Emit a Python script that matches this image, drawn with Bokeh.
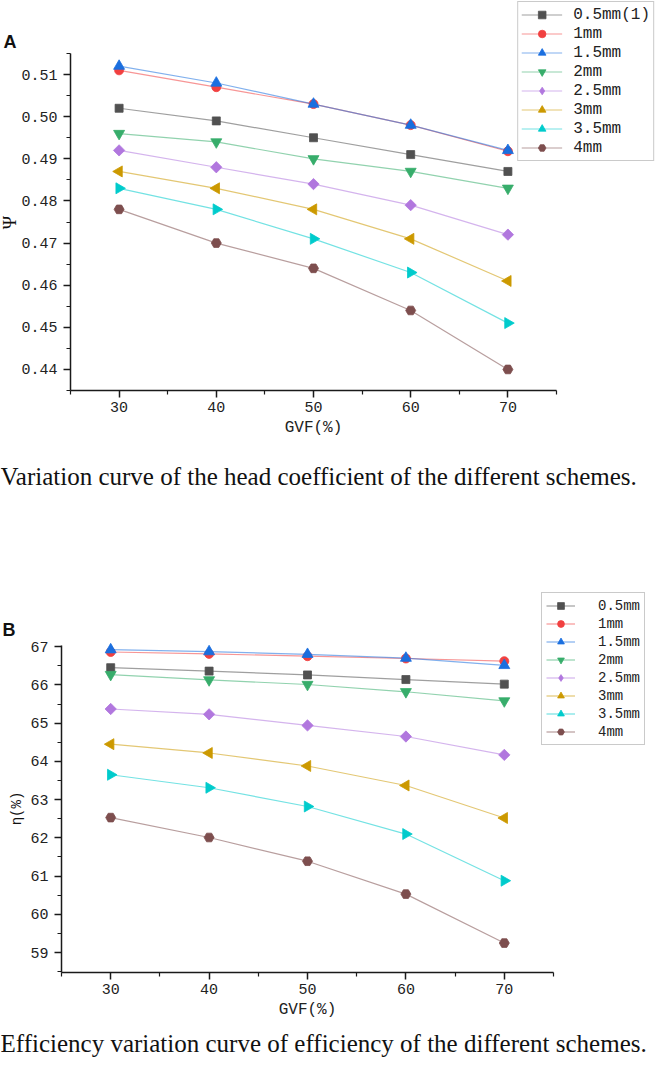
import numpy as np
from bokeh.plotting import figure
from bokeh.layouts import column
from bokeh.models import Range1d, FixedTicker, Label, Legend, LegendItem, CustomJSTickFormatter
from bokeh.embed import file_html
from bokeh.resources import INLINE

# ---------------- data ----------------
gvf = [30, 40, 50, 60, 70]

names_a = ["0.5mm(1)", "1mm", "1.5mm", "2mm", "2.5mm", "3mm", "3.5mm", "4mm"]
names_b = ["0.5mm", "1mm", "1.5mm", "2mm", "2.5mm", "3mm", "3.5mm", "4mm"]

# Panel A: head coefficient (Psi)
psi_05 = [0.502, 0.499, 0.495, 0.491, 0.487]
psi_10 = [0.511, 0.507, 0.503, 0.498, 0.4918]
psi_15 = [0.512, 0.508, 0.503, 0.498, 0.492]
psi_20 = [0.496, 0.494, 0.490, 0.487, 0.483]
psi_25 = [0.492, 0.488, 0.484, 0.479, 0.472]
psi_30 = [0.487, 0.483, 0.478, 0.471, 0.461]
psi_35 = [0.483, 0.478, 0.471, 0.463, 0.451]
psi_40 = [0.478, 0.470, 0.464, 0.454, 0.440]

# Panel B: efficiency (eta, %)
eta_05 = [66.45, 66.36, 66.26, 66.14, 66.02]
eta_10 = [66.86, 66.81, 66.75, 66.69, 66.62]
eta_15 = [66.92, 66.87, 66.80, 66.70, 66.51]
eta_20 = [66.27, 66.13, 66.01, 65.82, 65.58]
eta_25 = [65.37, 65.23, 64.94, 64.65, 64.17]
eta_30 = [64.45, 64.22, 63.88, 63.37, 62.52]
eta_35 = [63.65, 63.31, 62.82, 62.10, 60.88]
eta_40 = [62.53, 62.01, 61.39, 60.53, 59.25]

x_ticks = [30, 40, 50, 60, 70]
x_minor = [25, 35, 45, 55, 65, 75]
y_ticks_a = [0.44, 0.45, 0.46, 0.47, 0.48, 0.49, 0.50, 0.51]
y_minor_a = [0.435, 0.445, 0.455, 0.465, 0.475, 0.485, 0.495, 0.505, 0.515]
y_ticks_b = [59, 60, 61, 62, 63, 64, 65, 66, 67]
y_minor_b = [58.5, 59.5, 60.5, 61.5, 62.5, 63.5, 64.5, 65.5, 66.5]

# ---------------- styles ----------------
colors = ["#515151", "#F14040", "#1A6FDF", "#37AD6B", "#B177DE", "#CC9900", "#00CBCC", "#7D4E4E"]
markers = ["square", "circle", "triangle", "inverted_triangle", "square", "triangle", "triangle", "hex"]
legend_markers = ["square", "circle", "triangle", "inverted_triangle", "diamond", "triangle", "triangle", "hex"]
msizes = [8, 9, 11, 11, 8, 11, 11, 10]
angles = [0, 0, 0, 0, np.pi / 4, np.pi / 2, -np.pi / 2, 0]

MONO = "Liberation Mono"
SERIF = "Liberation Serif"
W = 655


def make_panel(height, px_left, px_right, px_top, px_bottom, xb, yb, yticks, yminor, fmt):
    """Frame covers the whole canvas; axes are drawn at fixed data locations with bounds."""
    kx = (px_right - px_left) / (xb[1] - xb[0])
    ky = (px_bottom - px_top) / (yb[1] - yb[0])
    xr = Range1d(xb[0] - px_left / kx, xb[1] + (W - px_right) / kx)
    yr = Range1d(yb[0] - (height - px_bottom) / ky, yb[1] + px_top / ky)
    p = figure(width=W, height=height, x_range=xr, y_range=yr,
               output_backend="svg", toolbar_location=None,
               min_border=0, min_border_left=0, min_border_right=0,
               min_border_top=0, min_border_bottom=0)
    p.grid.visible = False
    p.outline_line_color = None
    p.background_fill_color = "white"
    p.border_fill_color = "white"
    p.xaxis.fixed_location = yb[0]
    p.yaxis.fixed_location = xb[0]
    p.xaxis.bounds = xb
    p.yaxis.bounds = yb
    p.xaxis.ticker = FixedTicker(ticks=x_ticks, minor_ticks=x_minor)
    p.yaxis.ticker = FixedTicker(ticks=yticks, minor_ticks=yminor)
    p.yaxis.formatter = CustomJSTickFormatter(code=fmt)
    for ax in (p.xaxis[0], p.yaxis[0]):
        ax.axis_line_width = 1.5
        ax.axis_line_color = "#1a1a1a"
        ax.major_tick_out = 7
        ax.major_tick_in = 0
        ax.minor_tick_out = 4
        ax.minor_tick_in = 0
        ax.major_tick_line_width = 1.5
        ax.minor_tick_line_width = 1.2
        ax.major_tick_line_color = "#1a1a1a"
        ax.minor_tick_line_color = "#1a1a1a"
        ax.major_label_text_font = MONO
        ax.major_label_text_font_size = "15px"
        ax.major_label_text_color = "#222222"
    p.yaxis.major_label_standoff = 6
    p.xaxis.major_label_standoff = 4
    p.xaxis.axis_label = "GVF(%)"
    p.xaxis.axis_label_text_font = MONO
    p.xaxis.axis_label_text_font_size = "16px"
    p.xaxis.axis_label_text_font_style = "normal"
    p.xaxis.axis_label_text_color = "#222222"
    p.xaxis.axis_label_standoff = 4
    return p


def add_series(p, names, datasets):
    items = []
    for i, (nm, vals) in enumerate(zip(names, datasets)):
        lr = p.line(gvf, vals, line_color=colors[i], line_alpha=0.55, line_width=1.2)
        sr = p.scatter(gvf, vals, marker=markers[i], size=msizes[i], angle=angles[i],
                       fill_color=colors[i], line_color=colors[i], line_width=0.8)
        rends = [lr, sr]
        if legend_markers[i] != markers[i]:
            # zero-size twin of the series: invisible in the plot, gives the legend its shape
            lg = p.scatter(gvf, vals, marker=legend_markers[i], size=0,
                           fill_color=colors[i], line_color=colors[i], line_width=0.8)
            rends = [lr, lg]
        items.append(LegendItem(label=nm, renderers=rends))
    return items


def text_label(p, x, y, text, font, size, bold=False, angle=0.0, align="left"):
    p.add_layout(Label(x=x, y=y, x_units="screen", y_units="screen", text=text,
                       angle=angle, text_align=align, text_baseline="middle",
                       text_font=font, text_font_size=size,
                       text_font_style="bold" if bold else "normal", text_color="#111111"))


# ---------------- panel A ----------------
HA = 540
pa = make_panel(HA, 70, 556, 53, 390, (25, 75), (0.435, 0.515), y_ticks_a, y_minor_a,
                "return tick.toFixed(2);")
items_a = add_series(pa, names_a, [psi_05, psi_10, psi_15, psi_20, psi_25, psi_30, psi_35, psi_40])
leg_a = Legend(items=items_a, location="top_right", glyph_width=41, glyph_height=19,
               label_height=19, label_standoff=11, spacing=0, padding=3, margin=1,
               border_line_color="#969696", border_line_width=1.3,
               label_text_font=MONO, label_text_font_size="16px", label_text_color="#222222",
               label_text_align="left", label_text_baseline="middle",
               background_fill_alpha=1.0)
pa.add_layout(leg_a)
text_label(pa, 3, HA - 41, "A", "Liberation Sans", "18px", bold=True)
text_label(pa, 9, HA - 222, "Ψ", SERIF, "18px", angle=np.pi / 2, align="center")
text_label(pa, 0, HA - 476, "Variation curve of the head coefficient of the different schemes.",
           SERIF, "25px")

# ---------------- panel B ----------------
HB = 520
TB = HA  # page y of panel B top
pb = make_panel(HB, 61, 553, 645 - TB, 972 - TB, (25, 75), (58.48, 67.03), y_ticks_b, y_minor_b,
                "return tick.toFixed(0);")
items_b = add_series(pb, names_b, [eta_05, eta_10, eta_15, eta_20, eta_25, eta_30, eta_35, eta_40])
leg_b = Legend(items=items_b, location=(541, HB - (745 - TB)), glyph_width=29, glyph_height=17,
               label_height=17, label_standoff=23, spacing=1, padding=4, margin=0,
               border_line_color="#969696", border_line_width=1.3,
               label_text_font=MONO, label_text_font_size="14px", label_text_color="#222222",
               label_text_align="left", label_text_baseline="middle",
               background_fill_alpha=1.0)
pb.add_layout(leg_b)
text_label(pb, 2, HB - (629 - TB), "B", "Liberation Sans", "18px", bold=True)
text_label(pb, 16, HB - (808 - TB), "η(%)", MONO, "14px", angle=np.pi / 2, align="center")
text_label(pb, 0, HB - (1043 - TB),
           "Efficiency variation curve of efficiency of the different schemes.", SERIF, "25px")

layout = column(pa, pb, spacing=0)
open("out.html", "w").write(file_html(layout, INLINE))
